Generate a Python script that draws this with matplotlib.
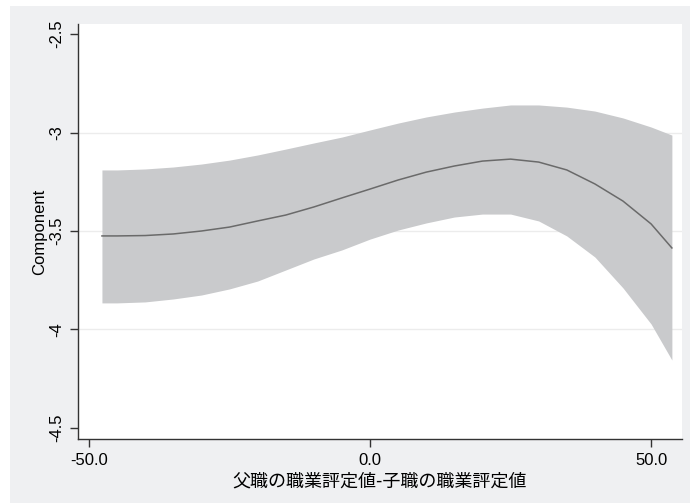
import matplotlib.pyplot as plt
from matplotlib.patches import Rectangle

# 成分プロットのデータ（推定値と信頼区間）
x_vals = [-47.7, -45, -40, -35, -30, -25, -20, -15, -10, -5, 0,
          5, 10, 15, 20, 25, 30, 35, 40, 45, 50, 53.7]
fit = [-3.525, -3.525, -3.523, -3.515, -3.500, -3.480, -3.449, -3.419,
       -3.378, -3.332, -3.287, -3.241, -3.201, -3.170, -3.145, -3.135,
       -3.150, -3.190, -3.261, -3.348, -3.464, -3.586]
upper = [-3.190, -3.190, -3.185, -3.175, -3.160, -3.140, -3.114, -3.084,
         -3.053, -3.023, -2.987, -2.952, -2.921, -2.896, -2.876, -2.860,
         -2.860, -2.871, -2.891, -2.926, -2.972, -3.013]
lower = [-3.865, -3.865, -3.860, -3.845, -3.825, -3.794, -3.754, -3.698,
         -3.642, -3.596, -3.541, -3.495, -3.459, -3.429, -3.414, -3.414,
         -3.449, -3.525, -3.632, -3.789, -3.972, -4.155]

x_ticks = [-50, 0, 50]
x_ticklabels = ["-50.0", "0.0", "50.0"]
y_ticks = [-2.5, -3, -3.5, -4, -4.5]
y_ticklabels = ["-2.5", "-3", "-3.5", "-4", "-4.5"]

plt.rcParams['font.family'] = ['Liberation Sans', 'Noto Sans CJK JP', 'DejaVu Sans']

fig = plt.figure(figsize=(6.9, 5.04), dpi=100)
fig.patch.set_facecolor("white")
# 外側の灰色の背景
fig.patches.append(Rectangle((10 / 690, 1 / 504), 1 - 10 / 690, 1 - 7 / 504,
                             transform=fig.transFigure, facecolor="#eff0f2",
                             edgecolor="none", zorder=-10))

ax = fig.add_axes([78 / 690, 65 / 504, 604 / 690, 415 / 504])
ax.set_facecolor("white")

# 横グリッド線
for yt in y_ticks[1:-1]:
    ax.axhline(yt, color="#ececec", lw=1.0, zorder=1)

ax.fill_between(x_vals, lower, upper, color="#c9cacc", lw=0, zorder=2)
ax.plot(x_vals, fit, color="#6a6a6a", lw=1.1, zorder=3)

ax.set_xlim(-51.96, 55.5)
ax.set_ylim(-4.556, -2.449)

ax.set_xticks(x_ticks)
ax.set_xticklabels(x_ticklabels, fontsize=12)
ax.set_yticks(y_ticks)
ax.set_yticklabels(y_ticklabels, fontsize=12, rotation=90, va="center")
ax.tick_params(direction="out", length=6, width=1, color="#333333", pad=4)

for side in ["top", "right"]:
    ax.spines[side].set_visible(False)
for side in ["left", "bottom"]:
    ax.spines[side].set_color("#333333")
    ax.spines[side].set_linewidth(1.0)

ax.set_xlabel("父職の職業評定値-子職の職業評定値", fontsize=13,
              family=['Noto Sans CJK JP', 'DejaVu Sans'], labelpad=3)
ax.set_ylabel("Component", fontsize=12, labelpad=1.5)

fig.savefig("out.png", dpi=100)
